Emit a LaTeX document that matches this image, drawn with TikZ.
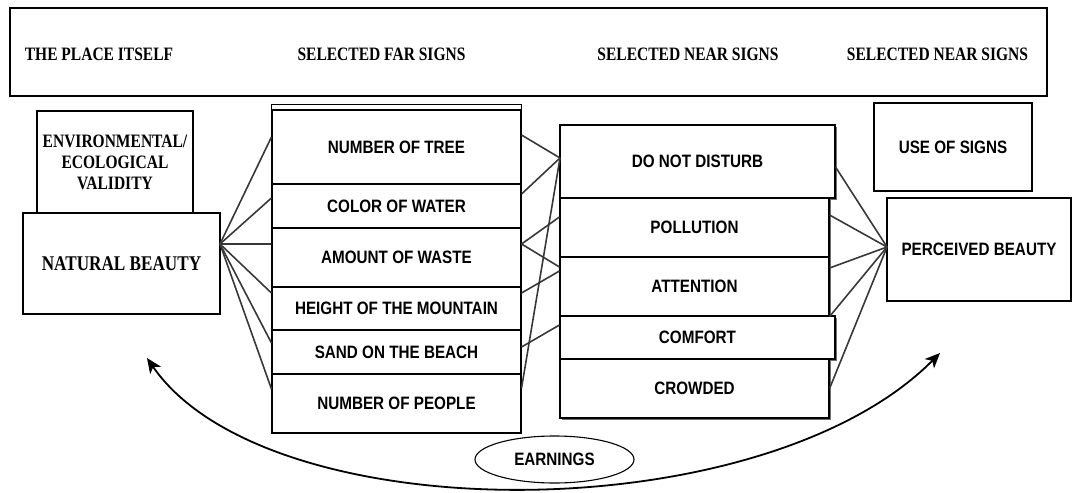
\documentclass[tikz,border=0pt]{standalone}
\usepackage{fontspec}
\setmainfont{Liberation Serif}
\newfontfamily\headfont[FakeStretch=0.82]{Liberation Serif}
\newfontfamily\signfont[FakeStretch=0.85]{Liberation Sans}
\usepackage{tikz}
\usetikzlibrary{arrows.meta,shapes,shadows}

\begin{document}
\begin{tikzpicture}[
  head/.style={inner sep=0pt,font=\headfont\bfseries\fontsize{19}{21}\selectfont},
  place/.style={draw,line width=1.1bp,fill=white,align=center,inner sep=0pt,font=\headfont\bfseries\fontsize{19}{21}\selectfont},
  sign/.style={draw,line width=1.1bp,fill=white,inner sep=0pt,font=\signfont\bfseries\fontsize{18}{20}\selectfont},
  near/.style={sign,drop shadow={shadow xshift=1.5bp,shadow yshift=-1.5bp,opacity=0.8,fill=black!70}},
  link/.style={line width=1.6bp,black!78},
  earn/.style={line width=1.8bp,{Stealth[length=15bp,width=13bp,inset=4bp]}-{Stealth[length=15bp,width=13bp,inset=4bp]}}
]
\useasboundingbox (0,0) rectangle (1076bp,-493bp);
% column titles
\node (frame) at (528.5bp,-52bp)[draw,line width=1.1bp,minimum width=1037bp,minimum height=88bp,inner sep=0pt] {};
\node (T1) at (99bp,-54bp)[head] {THE PLACE ITSELF};
\node (T2) at (381.5bp,-54bp)[head] {SELECTED FAR SIGNS};
\node (T3) at (688bp,-54bp)[head] {SELECTED NEAR SIGNS};
\node (T4) at (937.5bp,-54bp)[head] {SELECTED NEAR SIGNS};
% the place itself
\node (EV) at (115bp,-162bp)[place,minimum width=156bp,minimum height=102bp] {ENVIRONMENTAL/\\ECOLOGICAL\\VALIDITY};
\node (NB) at (121.5bp,-263.5bp)[place,minimum width=197bp,minimum height=101bp,font=\headfont\bfseries\fontsize{21}{23}\selectfont] {NATURAL BEAUTY};
% far signs
\node (NT) at (396.5bp,-147bp)[sign,minimum width=249bp,minimum height=74bp] {NUMBER OF TREE};
\node (CW) at (396.5bp,-206bp)[sign,minimum width=249bp,minimum height=44bp] {COLOR OF WATER};
\node (AW) at (396.5bp,-257.5bp)[sign,minimum width=249bp,minimum height=59bp] {AMOUNT OF WASTE};
\node (HM) at (396.5bp,-308.5bp)[sign,minimum width=249bp,minimum height=43bp] {HEIGHT OF THE MOUNTAIN};
\node (SB) at (396.5bp,-352bp)[sign,minimum width=249bp,minimum height=44bp] {SAND ON THE BEACH};
\node (NP) at (396.5bp,-403.5bp)[sign,minimum width=249bp,minimum height=59bp] {NUMBER OF PEOPLE};
\draw [line width=1.1bp] (NT.north west) |- ([yshift=5bp]NT.north east) -- (NT.north east);
% near signs
\node (DND) at (697.5bp,-161.5bp)[near,minimum width=275bp,minimum height=73bp] {DO NOT DISTURB};
\node (POL) at (694.5bp,-227.5bp)[near,minimum width=269bp,minimum height=59bp] {POLLUTION};
\node (ATT) at (694.5bp,-286.5bp)[near,minimum width=269bp,minimum height=59bp] {ATTENTION};
\node (COM) at (697.5bp,-337.5bp)[near,minimum width=275bp,minimum height=43bp] {COMFORT};
\node (CRO) at (694.5bp,-388.5bp)[near,minimum width=269bp,minimum height=59bp] {CROWDED};
% right side
\node (US) at (953bp,-147bp)[sign,minimum width=158bp,minimum height=88bp] {USE OF SIGNS};
\node (PB) at (979bp,-249.5bp)[sign,minimum width=184bp,minimum height=103bp] {PERCEIVED BEAUTY};
\node (EA) at (554.5bp,-459.5bp)[sign,ellipse,minimum width=159bp,minimum height=47bp] {EARNINGS};
\coordinate (nbout) at (220bp,-244bp);
\coordinate (dndin) at (560bp,-158bp);
\coordinate (pbin) at (887bp,-247bp);
\coordinate (arrl) at (147bp,-358bp);
\coordinate (arrr) at (940bp,-353bp);
% place -> far signs
\draw [link] (nbout) -- ([yshift=10bp]NT.west);
\draw [link] (nbout) -- ([yshift=8bp]CW.west);
\draw [link] (nbout) -- ([yshift=13.5bp]AW.west);
\draw [link] (nbout) -- ([yshift=15.5bp]HM.west);
\draw [link] (nbout) -- ([yshift=9bp]SB.west);
\draw [link] (nbout) -- ([yshift=14.5bp]NP.west);
% far -> near signs
\draw [link] ([yshift=12bp]NT.east) -- (dndin);
\draw [link] ([yshift=12bp]CW.east) -- (dndin);
\draw [link] ([yshift=13.5bp]AW.east) -- ([yshift=10.5bp]POL.west);
\draw [link] ([yshift=13.5bp]AW.east) -- ([yshift=19.5bp]ATT.west);
\draw [link] ([yshift=15.5bp]HM.east) -- ([yshift=15.5bp]ATT.west);
\draw [link] ([yshift=5bp]SB.east) -- ([yshift=12.5bp]COM.west);
\draw [link] ([yshift=15.5bp]NP.east) -- (dndin);
% near signs -> perceived beauty
\draw [link] ([yshift=-5.5bp]DND.east) -- (pbin);
\draw [link] ([yshift=12.5bp]POL.east) -- (pbin);
\draw [link] ([yshift=18.5bp]ATT.east) -- (pbin);
\draw [link] (ATT.south east) -- (pbin);
\draw [link] (CRO.east) -- (pbin);
% earnings loop
\draw [earn] (arrl) .. controls (267bp,-532bp) and (762bp,-532bp) .. (arrr);
\end{tikzpicture}
\end{document}
